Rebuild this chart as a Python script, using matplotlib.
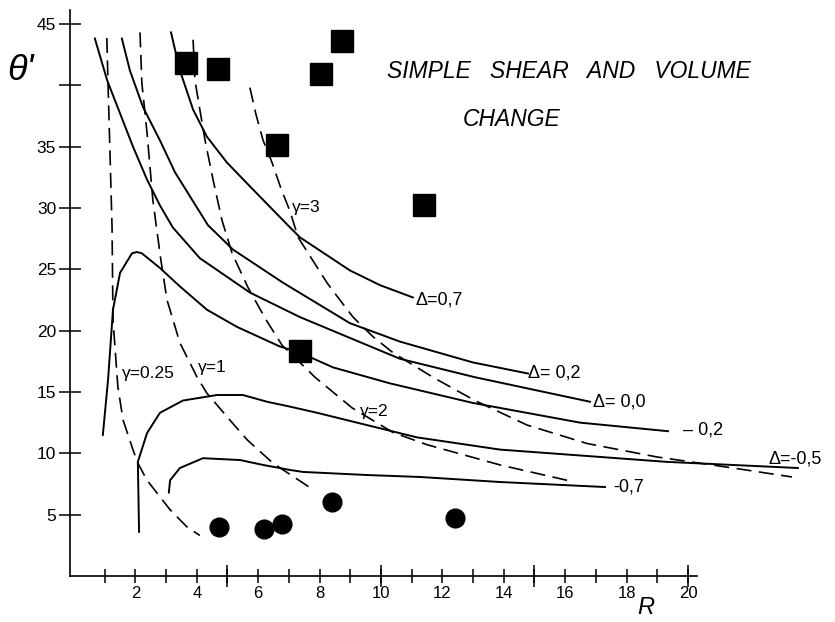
import matplotlib
matplotlib.use('Agg')
import matplotlib.pyplot as plt

plt.rcParams['font.family'] = ['Liberation Sans', 'DejaVu Sans']

# ---- Delta curves (solid), R vs theta'
d07_R = [3.16, 3.45, 3.88, 4.33, 4.98, 5.83, 7.04, 7.36, 8.99, 9.97, 11.04]
d07_T = [44.3, 41.2, 38.0, 35.8, 33.7, 31.5, 28.4, 27.6, 24.9, 23.7, 22.7]

d02_R = [1.56, 1.82, 2.25, 2.80, 3.29, 4.36, 5.18, 6.81, 8.99, 10.62, 13.00, 14.79]
d02_T = [43.8, 41.2, 38.2, 35.5, 32.9, 28.6, 26.6, 23.9, 20.6, 19.1, 17.4, 16.5]

d00_R = [0.68, 1.08, 1.50, 1.92, 2.38, 2.80, 3.22, 4.10, 5.73, 7.36, 8.99, 10.62, 13.06, 16.81]
d00_T = [43.8, 40.4, 37.7, 35.0, 32.3, 30.2, 28.4, 25.9, 23.1, 21.1, 19.4, 17.7, 16.2, 14.2]

dm02_R = [0.94, 1.11, 1.27, 1.50, 1.89, 2.05, 2.21, 2.80, 3.45, 4.33, 5.31, 6.71, 7.36,
          8.44, 10.29, 13.00, 16.48, 19.35]
dm02_T = [11.5, 16.0, 21.7, 24.7, 26.3, 26.4, 26.3, 25.1, 23.6, 21.7, 20.3, 18.7, 18.2,
          17.0, 15.7, 14.1, 12.5, 11.8]

dm05_R = [2.12, 2.08, 2.38, 2.80, 3.55, 4.66, 5.50, 6.29, 7.04, 7.92, 9.54, 11.17, 13.88,
          16.06, 19.32, 23.58]
dm05_T = [3.6, 9.3, 11.65, 13.3, 14.3, 14.75, 14.75, 14.2, 13.8, 13.3, 12.3, 11.3, 10.3,
          9.9, 9.3, 8.8]

dm07_R = [3.09, 3.13, 3.45, 4.20, 5.41, 6.16, 7.04, 7.46, 9.54, 11.27, 13.88, 17.30]
dm07_T = [6.8, 7.8, 8.8, 9.6, 9.45, 9.05, 8.64, 8.48, 8.23, 8.07, 7.66, 7.25]

# ---- gamma curves (dashed)
g025_R = [1.07, 1.11, 1.17, 1.24, 1.27, 1.43, 1.60, 1.92, 2.08, 2.38, 3.13, 3.68, 4.10]
g025_T = [43.85, 40.0, 34.7, 28.4, 20.9, 15.4, 12.7, 10.3, 9.2, 7.8, 5.4, 4.0, 3.3]

g1_R = [2.15, 2.21, 2.38, 2.57, 2.83, 3.03, 3.45, 4.01, 4.33, 5.08, 5.64, 6.48, 7.69]
g1_T = [44.3, 40.2, 36.1, 30.6, 25.75, 22.5, 19.0, 16.2, 14.9, 12.7, 11.1, 9.2, 7.2]

g2_R = [3.88, 3.94, 4.10, 4.27, 4.53, 4.82, 5.15, 5.67, 6.25, 6.78, 7.36, 7.85, 9.06,
        10.39, 11.50, 13.88, 16.06]
g2_T = [43.7, 40.4, 38.0, 35.5, 32.3, 29.0, 26.3, 23.5, 20.9, 18.8, 17.4, 16.2, 13.7,
        11.7, 10.7, 9.05, 7.8]

g3_R = [5.73, 5.93, 6.16, 6.45, 6.74, 7.04, 7.30, 8.24, 8.66, 9.09, 9.74, 10.39, 11.69,
        13.06, 14.76, 16.71, 18.99, 21.47, 23.39]
g3_T = [39.8, 37.6, 35.5, 33.7, 31.6, 29.7, 27.6, 23.9, 22.5, 21.1, 19.5, 18.2, 16.2,
        14.3, 12.3, 10.8, 9.7, 8.8, 8.07]

# ---- measured samples
sq_R = [3.65, 4.69, 8.05, 8.73, 6.61, 11.40, 7.36]
sq_T = [41.8, 41.3, 40.9, 43.6, 35.1, 30.2, 18.3]
ci_R = [4.72, 6.19, 6.78, 8.40, 12.41]
ci_T = [4.0, 3.8, 4.2, 6.0, 4.7]

y_ticks = [5, 10, 15, 20, 25, 30, 35, 40, 45]
y_labels = ['5', '10', '15', '20', '25', '30', '35', '', '45']
x_ticks = list(range(1, 21))
x_labels = [str(v) if v % 2 == 0 else '' for v in x_ticks]

fig = plt.figure(figsize=(8.35, 6.22), dpi=100)
ax = fig.add_axes([70 / 835, 46 / 622, 765 / 835, 576 / 622])
ax.set_xlim(-0.13, 24.79)
ax.set_ylim(0, 46.94)

solid = dict(color='black', lw=1.4)
dashed = dict(color='black', lw=1.2, linestyle=(0, (9, 4.5)))

for R, T in [(d07_R, d07_T), (d02_R, d02_T), (d00_R, d00_T),
             (dm02_R, dm02_T), (dm05_R, dm05_T), (dm07_R, dm07_T)]:
    ax.plot(R, T, **solid)

for R, T in [(g025_R, g025_T), (g1_R, g1_T), (g2_R, g2_T), (g3_R, g3_T)]:
    ax.plot(R, T, **dashed)

ax.plot(sq_R, sq_T, 's', color='black', markersize=16, zorder=5)
ax.plot(ci_R, ci_T, 'o', color='black', markersize=13.5, zorder=5)

# curve labels
ax.text(1.56, 16.54, 'γ=0.25', fontsize=12.5, va='center')
ax.text(4.04, 17.03, 'γ=1', fontsize=12.5, va='center')
ax.text(9.32, 13.37, 'γ=2', fontsize=12.5, va='center')
ax.text(7.10, 30.07, 'γ=3', fontsize=12.5, va='center')
ax.text(11.11, 22.49, 'Δ=0,7', fontsize=13, va='center')
ax.text(14.79, 16.54, 'Δ= 0,2', fontsize=13, va='center')
ax.text(16.91, 14.18, 'Δ= 0,0', fontsize=13, va='center')
ax.text(19.84, 11.90, '– 0,2', fontsize=13, va='center')
ax.text(22.61, 9.54, 'Δ=-0,5', fontsize=13, va='center')
ax.text(17.56, 7.25, '-0,7', fontsize=13, va='center')

ax.text(10.2, 41.1, 'SIMPLE   SHEAR   AND   VOLUME', fontsize=16.5, style='italic', va='center')
ax.text(12.67, 37.2, 'CHANGE', fontsize=16.5, style='italic', va='center')

# axes
for s in ['top', 'right']:
    ax.spines[s].set_visible(False)
ax.spines['bottom'].set_bounds(-0.13, 20.3)
ax.spines['left'].set_bounds(0, 46.1)
ax.spines['bottom'].set_linewidth(1.2)
ax.spines['left'].set_linewidth(1.2)

ax.set_yticks(y_ticks)
ax.set_yticklabels(y_labels)
ax.tick_params(axis='y', direction='inout', length=16, width=1.1, pad=2, labelsize=12.5)

ax.set_xticks(x_ticks)
ax.set_xticklabels(x_labels)
ax.tick_params(axis='x', which='major', direction='inout', length=10, width=1.1, pad=2, labelsize=12)
ax.xaxis.remove_overlapping_locs = False
ax.set_xticks([5, 10, 15, 20], minor=True)
ax.tick_params(axis='x', which='minor', direction='inout', length=16, width=1.1)

fig.text(20 / 835, 1 - 70 / 622, "θ'", fontsize=26, style='italic', ha='center', va='center')
fig.text(646 / 835, 1 - 608 / 622, 'R', fontsize=17, style='italic', ha='center', va='center')

fig.savefig('out.png', dpi=100)
